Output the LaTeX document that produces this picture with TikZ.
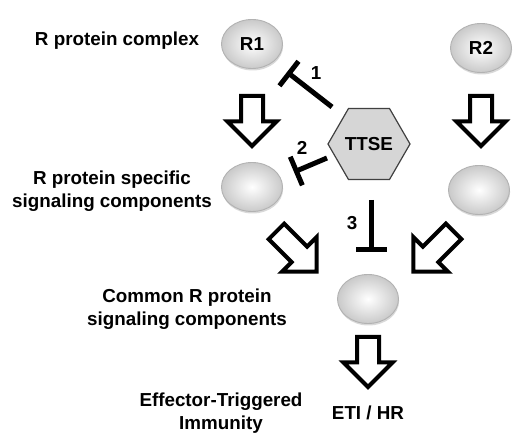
\documentclass[tikz,border=0pt]{standalone}
\usepackage{fontspec}
\setmainfont{Liberation Sans}
\usetikzlibrary{shapes.geometric,shapes.arrows,arrows.meta,shadows,calc}
\begin{document}
\begin{tikzpicture}[x=1pt,y=-1pt,
  lbl/.style={font=\bfseries\fontsize{18.8}{23}\selectfont, align=center, inner sep=0pt},
  ball/.style={ellipse, minimum width=61pt, minimum height=49pt, inner sep=0pt,
    draw=gray!60, line width=0.9pt, inner color=white, outer color=gray!42,
    drop shadow={shadow xshift=0.6pt, shadow yshift=-2pt, opacity=0.3},
    font=\bfseries\fontsize{18.8}{23}\selectfont},
  blk/.style={single arrow, draw=black, fill=white, line width=4pt, inner xsep=0pt,
    inner ysep=9pt, single arrow head extend=13.5pt, single arrow tip angle=90,
    minimum height=50pt, anchor=tail},
  inh/.style={line width=5pt, -{Bar[width=31pt]}},
  hex/.style={regular polygon, regular polygon sides=6, minimum size=82pt, inner sep=0pt,
    fill=gray!32, draw=gray!50!black, line width=1.2pt,
    font=\bfseries\fontsize{18.8}{23}\selectfont}
]
\useasboundingbox (0,0) rectangle (525,446);

% circles
\node[ball] (R1) at (252,44) {R1};
\node[ball] (R2) at (481,48) {R2};
\node[ball] (ML) at (252,187) {};
\node[ball] (MR) at (479,190) {};
\node[ball] (Bot) at (368,299) {};

% hexagon
\node[hex] (T) at (369,144) {TTSE};

% block arrows
\node[blk, rotate=-90] (a1) at ($(R1.south)+(0,25)$) {};
\node[blk, rotate=-90] (a2) at ($(R2.south)+(0,21)$) {};
\node[blk, rotate=-45, minimum height=57pt] (a3) at ($(ML)+(23,43)$) {};
\node[blk, rotate=-135, minimum height=57pt] (a4) at ($(MR)+(-24,40)$) {};
\node[blk, rotate=-90] (a5) at ($(Bot.south)+(0,11)$) {};

% inhibitors
\coordinate (i1a) at (332,107);
\coordinate (i1b) at (287,72);
\coordinate (i2a) at (327,158);
\coordinate (i2b) at (294,172);
\coordinate (i3a) at (371,200);
\coordinate (i3b) at (371,252);
\draw[inh] (i1a) -- (i1b);
\draw[inh] (i2a) -- (i2b);
\draw[inh] (i3a) -- (i3b);

\node[lbl] (n1) at (316,73) {1};
\node[lbl] (n2) at (302,148) {2};
\node[lbl] (n3) at (352,223) {3};

% texts
\node[lbl] (t1) at (117,41) {R protein complex};
\node[lbl] (t2) at (112,191) {R protein specific\\signaling components};
\node[lbl] (t3) at (187,309) {Common R protein\\signaling components};
\node[lbl] (t4) at (221,413) {Effector-Triggered\\Immunity};
\node[lbl] (t5) at (368,413) {ETI / HR};
\end{tikzpicture}
\end{document}
